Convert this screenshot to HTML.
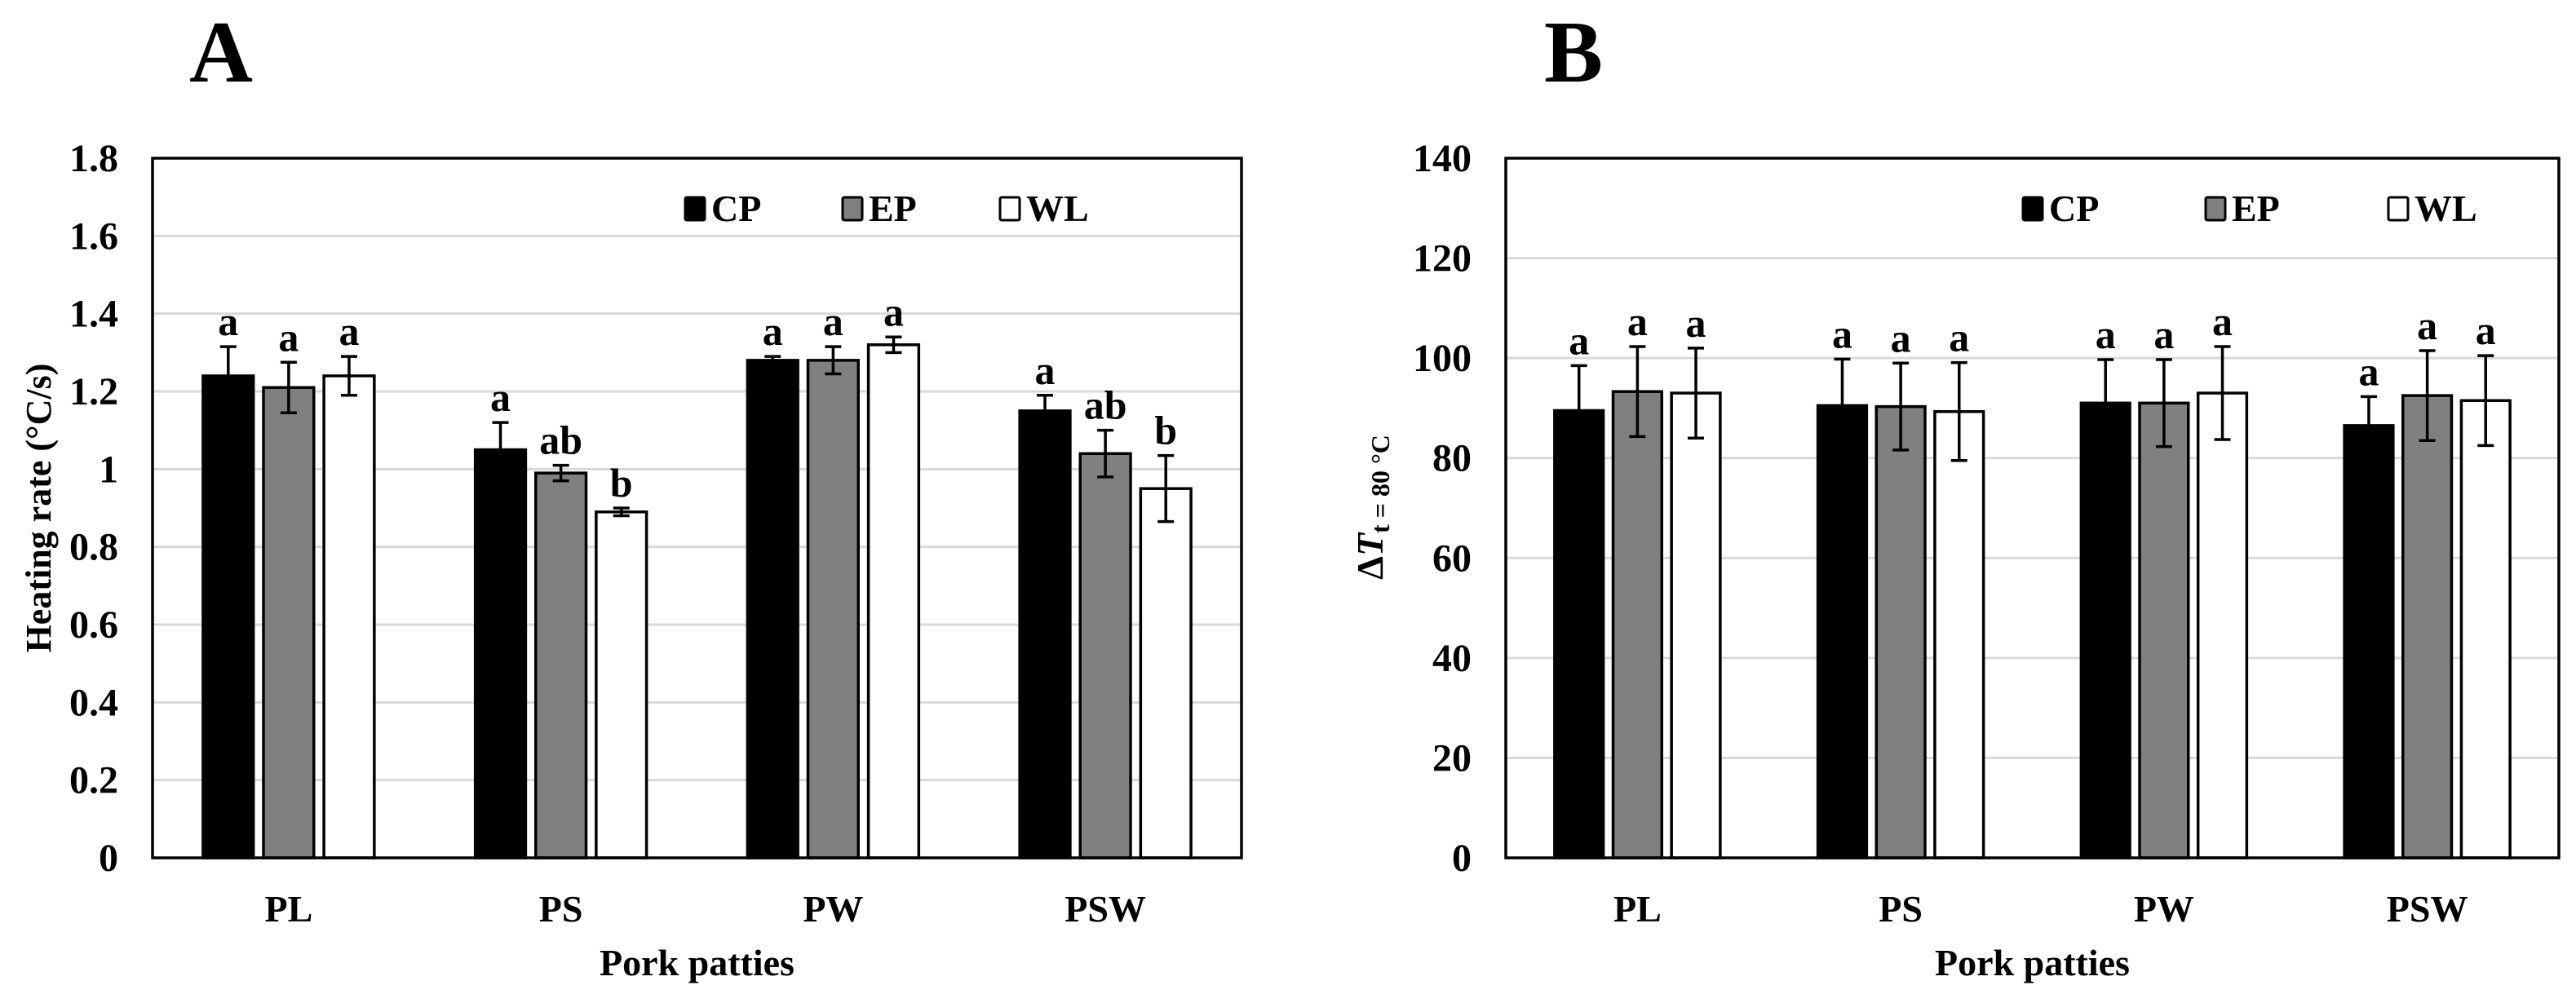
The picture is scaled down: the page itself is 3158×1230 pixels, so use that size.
<!DOCTYPE html>
<html>
<head>
<meta charset="utf-8">
<style>
  html, body { margin: 0; padding: 0; background: #fff; }
  svg { display: block; font-family: "Liberation Serif", serif; font-weight: bold; }
</style>
</head>
<body>
<svg id="fig" width="3158" height="1230" viewBox="0 0 3158 1230" xmlns="http://www.w3.org/2000/svg"></svg>
<script>
// ---- data ----
const categories = ["PL", "PS", "PW", "PSW"];
const seriesNames = ["CP", "EP", "WL"];
const seriesFill = ["#000000", "#808080", "#ffffff"];

const rateCP = [1.24, 1.05, 1.28, 1.15];
const rateEP = [1.21, 0.99, 1.28, 1.04];
const rateWL = [1.24, 0.89, 1.32, 0.95];
const rateErrCP = [0.075, 0.07, 0.01, 0.04];
const rateErrEP = [0.065, 0.02, 0.035, 0.06];
const rateErrWL = [0.05, 0.01, 0.02, 0.085];
const rateLetters = [["a","a","a"],["a","ab","b"],["a","a","a"],["a","ab","b"]];
const rateTicks = ["0","0.2","0.4","0.6","0.8","1","1.2","1.4","1.6","1.8"];

const dtCP = [89.5, 90.5, 91, 86.5];
const dtEP = [93.3, 90.3, 91, 92.5];
const dtWL = [93, 89.3, 93, 91.5];
const dtErrCP = [9, 9.3, 8.7, 5.8];
const dtErrEP = [9, 8.7, 8.7, 9];
const dtErrWL = [9, 9.8, 9.3, 9];
const dtLetters = [["a","a","a"],["a","a","a"],["a","a","a"],["a","a","a"]];
const dtTicks = ["0","20","40","60","80","100","120","140"];

const NS = "http://www.w3.org/2000/svg";
const svg = document.getElementById("fig");
function mk(tag, attrs, parent, text) {
  const e = document.createElementNS(NS, tag);
  for (const k in attrs) e.setAttribute(k, attrs[k]);
  if (text !== undefined) e.textContent = text;
  (parent || svg).appendChild(e);
  return e;
}

function panel(opt) {
  const g = mk("g", {});
  
  
  const L = opt.left, R = opt.right, T = 194, B = 1052;
  const yMax = opt.yMax;
  const y = v => B - (v / yMax) * (B - T);
  const catW = (R - L) / categories.length;
  const barW = catW * 0.185, gap = catW * 0.037;
  const xBar = (ci, si) => L + catW * (ci + 0.5) + (si - 1) * (barW + gap) - barW / 2;

  // gridlines
  opt.ticks.forEach((t, i) => {
    const v = yMax * i / (opt.ticks.length - 1);
    const yy = y(v);
    if (i > 0 && i < opt.ticks.length - 1) {
      const gl = mk("line", {x1: L, x2: R, y1: yy, y2: yy, stroke: "#d9d9d9", "stroke-width": 3}, g);
      
      
    }
    const tl = mk("text", {x: L - 42, y: yy + 16, "text-anchor": "end", "font-size": 48}, g, t);
    
    
  });

  // bars
  const vals = opt.values, errs = opt.errors;
  categories.forEach((c, ci) => {
    seriesNames.forEach((s, si) => {
      const v = vals[si][ci], e = errs[si][ci];
      const x = xBar(ci, si);
      const r = mk("rect", {x: x, y: y(v), width: barW, height: B - y(v), fill: seriesFill[si], stroke: "#000", "stroke-width": 3.5}, g);
      
      
      const cx = x + barW / 2;
      const eb = mk("path", {d: `M${cx},${y(v - e)}V${y(v + e)}M${cx - 10},${y(v + e)}H${cx + 10}M${cx - 10},${y(v - e)}H${cx + 10}`, stroke: "#000", "stroke-width": 3.5, fill: "none"}, g);
      
      
      const lt = mk("text", {x: cx, y: y(v + e) - 14, "text-anchor": "middle", "font-size": 50}, g, opt.letters[ci][si]);
      
      
    });
    const cl = mk("text", {x: L + catW * (ci + 0.5), y: 1130, "text-anchor": "middle", "font-size": 46}, g, c);
    
    
  });

  // frame
  const fr = mk("rect", {x: L, y: T, width: R - L, height: B - T, fill: "none", stroke: "#000", "stroke-width": 3.5}, g);
  
  

  // legend
  seriesNames.forEach((s, si) => {
    const lx = opt.legendX + si * opt.legendStep;
    const sq = mk("rect", {x: lx, y: 242, width: 24, height: 28, fill: seriesFill[si], stroke: "#000", "stroke-width": 3, rx: 2}, g);
    
    
    const lt = mk("text", {x: lx + 32, y: 271, "font-size": 46}, g, s);
    
    
  });

  // x title
  const xt = mk("text", {x: (L + R) / 2, y: 1196, "text-anchor": "middle", "font-size": 46}, g, "Pork patties");
  
  

  // panel letter
  const pl = mk("text", {x: opt.letterX, y: 100, "font-size": 108}, g, opt.letter);
  
  
  return g;
}

panel({name: "panel-a-heating-rate", left: 187, right: 1522, yMax: 1.8, ticks: rateTicks,
  values: [rateCP, rateEP, rateWL], errors: [rateErrCP, rateErrEP, rateErrWL], letters: rateLetters,
  legendX: 840, legendStep: 193, letter: "A", letterX: 232});
panel({name: "panel-b-delta-t", left: 1846, right: 3137, yMax: 140, ticks: dtTicks,
  values: [dtCP, dtEP, dtWL], errors: [dtErrCP, dtErrEP, dtErrWL], letters: dtLetters,
  legendX: 2480, legendStep: 224, letter: "B", letterX: 1893});

// y titles
const ya = mk("text", {x: 0, y: 0, transform: "translate(62,623) rotate(-90)", "text-anchor": "middle", "font-size": 44}, svg, "Heating rate (°C/s)");


const yb = mk("text", {x: 0, y: 0, transform: "translate(1695,622) rotate(-90)", "text-anchor": "middle", "font-size": 46}, svg);


mk("tspan", {}, yb, "Δ");
mk("tspan", {"font-style": "italic"}, yb, "T");
mk("tspan", {"font-size": 32, dy: 8}, yb, "t = 80 °C");
</script>
</body>
</html>
